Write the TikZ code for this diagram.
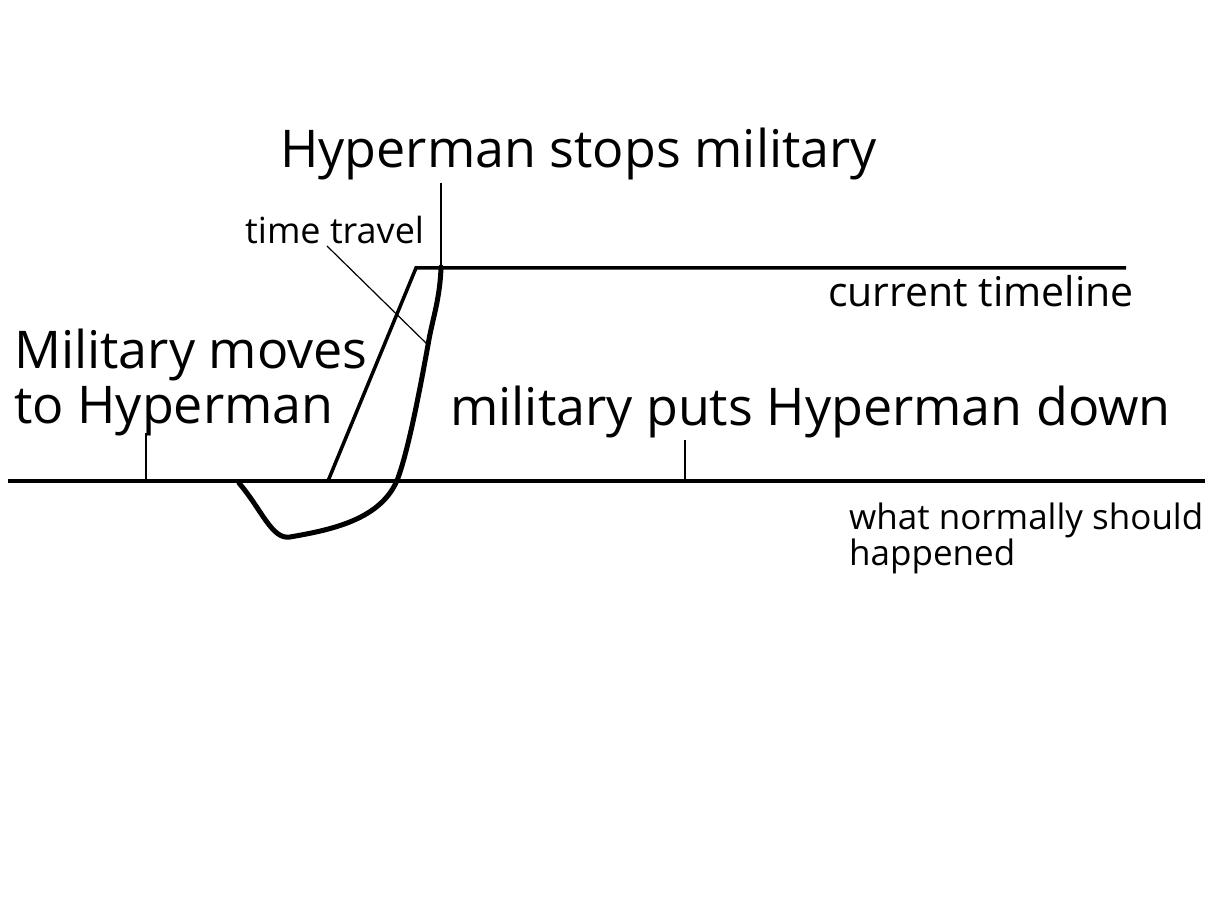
\documentclass[tikz,border=0pt]{standalone}
\usepackage{fontspec}
\setmainfont{Open Sans}
\begin{document}
\begin{tikzpicture}[x=1pt,y=-1pt,
  big/.style={anchor=base west,inner sep=0pt,font=\fontsize{52}{60}\selectfont},
  mid/.style={anchor=base west,inner sep=0pt,font=\fontsize{41}{46}\selectfont},
  small/.style={anchor=base west,inner sep=0pt,font=\fontsize{36}{40}\selectfont},
  note/.style={anchor=base west,inner sep=0pt,font=\fontsize{35}{36}\selectfont},
  timeline/.style={line width=3.5pt},
  thin/.style={line width=1.2pt},
  path/.style={line width=5pt,line cap=round,line join=round}]
\useasboundingbox[fill=white] (0,0) rectangle (1212,909);
% timelines
\coordinate (b0) at (8,481);
\coordinate (b1) at (1205,481);
\coordinate (tt0) at (328,481);
\coordinate (t0) at (416,268);
\coordinate (t1) at (1126,268);
\draw[timeline] (b0) -- (b1);
\draw[timeline] (tt0) -- (t0) -- (t1);
% thick path
\coordinate (p0) at (441,267);
\coordinate (p1) at (428,345);
\coordinate (pb) at (290,537);
\coordinate (pe) at (239,483);
\draw[path] (p0) .. controls (440,300) and (432,320) .. (p1)
  .. controls (418,400) and (408,450) .. (398,478)
  .. controls (382,520) and (330,530) .. (pb)
  .. controls (272,540) and (262,510) .. (pe);
% labels
\node[big] (hs) at (280,168) {Hyperman stops military};
\node[small] (tt) at (245,244) {time travel};
\node[big] (mm1) at (14,368) {Military moves};
\node[big] (mm2) at (14,423) {to Hyperman};
\node[big] (mp) at (450,425) {military puts Hyperman down};
\node[mid] (ct) at (828,306) {current timeline};
\node[note] (wn1) at (849,529) {what normally should};
\node[note] (wn2) at (849,565) {happened};
% pointers
\coordinate (hsv) at (441,183);
\draw[thin] (hsv) -- (p0);
\coordinate (ttp) at (327,246);
\draw[thin] (ttp) -- (p1);
\coordinate (m0) at (146,433);
\coordinate (m1) at (146,481);
\draw[thin] (m0) -- (m1);
\coordinate (d0) at (685,440);
\coordinate (d1) at (685,481);
\draw[thin] (d0) -- (d1);
\end{tikzpicture}
\end{document}
